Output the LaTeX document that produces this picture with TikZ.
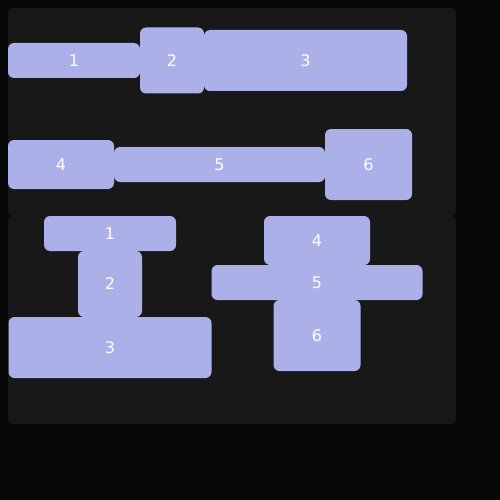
\documentclass[tikz,border=0pt]{standalone}
\usepackage{fontspec}
\setmainfont{DejaVu Sans}
\usetikzlibrary{positioning}
\definecolor{pagebg}{HTML}{080808}
\definecolor{panelbg}{HTML}{181818}
\definecolor{boxfill}{HTML}{ABB1E8}
\tikzset{
  panel/.style={fill=panelbg, rounded corners=5pt},
  item/.style={fill=boxfill, text=white, rounded corners=6pt, inner sep=0pt, outer sep=0pt,
    font=\fontsize{16}{19}\selectfont},
  itemA/.style={item, minimum width=132pt, minimum height=35pt},
  itemB/.style={item, minimum width=64pt, minimum height=66pt},
  itemC/.style={item, minimum width=203pt, minimum height=61pt},
  itemD/.style={item, minimum width=106pt, minimum height=49pt},
  itemE/.style={item, minimum width=211pt, minimum height=35pt},
  itemF/.style={item, minimum width=87pt, minimum height=71pt}
}
\begin{document}
\begin{tikzpicture}[x=1pt,y=-1pt]
  \fill[pagebg] (0,0) rectangle (500,500);
  \useasboundingbox (0,0) rectangle (500,500);
  % panels
  \fill[panel] (8,8) rectangle (456,216);
  \fill[panel] (8,216) rectangle (456,424);
  % top panel: rows
  \node[itemA] (t1) at (74,60.5) {1};
  \node[itemB, right=0pt of t1] (t2) {2};
  \node[itemC, right=0pt of t2] (t3) {3};
  \node[itemD] (t4) at (61,164.5) {4};
  \node[itemE, right=0pt of t4] (t5) {5};
  \node[itemF, right=0pt of t5] (t6) {6};
  % bottom panel: columns
  \node[itemA] (b1) at (110,233.5) {1};
  \node[itemB, below=0pt of b1] (b2) {2};
  \node[itemC, below=0pt of b2] (b3) {3};
  \node[itemD] (b4) at (317,240.5) {4};
  \node[itemE, below=0pt of b4] (b5) {5};
  \node[itemF, below=0pt of b5] (b6) {6};
\end{tikzpicture}
\end{document}
